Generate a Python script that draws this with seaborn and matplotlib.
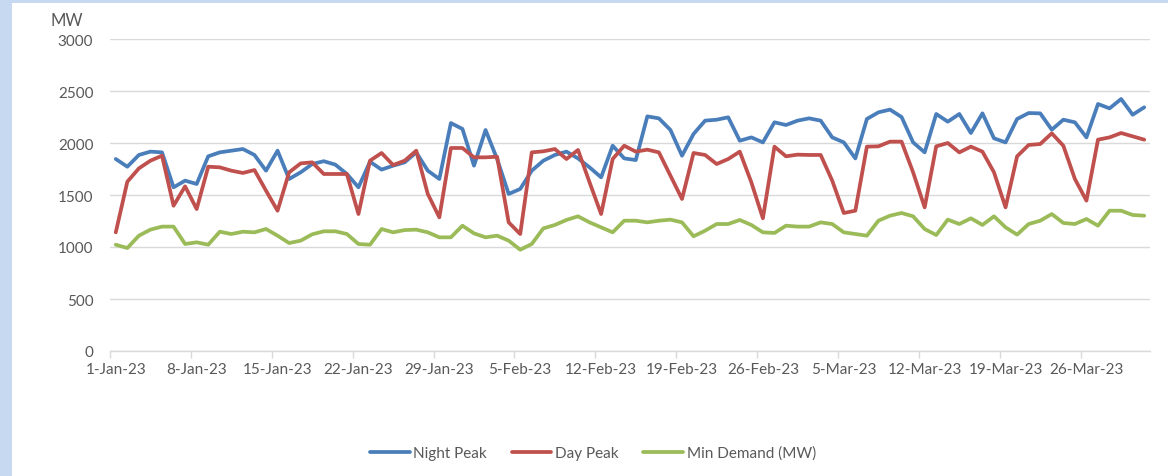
import matplotlib
matplotlib.use("Agg")
import matplotlib.pyplot as plt
from matplotlib.patches import Rectangle
import pandas as pd
import seaborn as sns

# Daily demand, 1 Jan - 31 Mar 2023 (MW)
start_date = "2023-01-01"
n_days = 90

night_peak = [
    1846, 1772, 1885, 1917, 1910, 1574, 1638, 1606, 1872, 1910,
    1926, 1942, 1885, 1734, 1926, 1654, 1718, 1798, 1825, 1792,
    1702, 1574, 1820, 1744, 1782, 1814, 1910, 1734, 1654, 2192,
    2135, 1782, 2125, 1846, 1510, 1558, 1734, 1830, 1885, 1917,
    1852, 1766, 1670, 1974, 1852, 1836, 2256, 2237, 2125, 1878,
    2087, 2215, 2224, 2247, 2022, 2054, 2006, 2199, 2173, 2215,
    2237, 2215, 2054, 2006, 1852, 2231, 2295, 2321, 2250, 2006,
    1910, 2279, 2205, 2279, 2096, 2285, 2045, 2006, 2231, 2288,
    2285, 2128, 2224, 2199, 2054, 2375, 2333, 2423, 2272, 2343,
]

day_peak = [
    1141, 1628, 1756, 1830, 1878, 1397, 1583, 1365, 1772, 1766,
    1734, 1712, 1740, 1542, 1349, 1718, 1804, 1814, 1702, 1702,
    1702, 1317, 1830, 1904, 1788, 1830, 1926, 1510, 1285, 1952,
    1952, 1862, 1862, 1868, 1237, 1125, 1910, 1920, 1942, 1846,
    1933, 1622, 1317, 1846, 1974, 1917, 1936, 1910, 1686, 1462,
    1904, 1885, 1798, 1846, 1917, 1622, 1276, 1965, 1872, 1888,
    1885, 1885, 1638, 1327, 1349, 1965, 1968, 2013, 2013, 1718,
    1381, 1968, 2000, 1910, 1965, 1917, 1718, 1381, 1872, 1981,
    1990, 2093, 1974, 1654, 1446, 2032, 2054, 2096, 2064, 2032,
]

min_demand = [
    1022, 990, 1109, 1167, 1196, 1196, 1029, 1045, 1022, 1147,
    1125, 1147, 1141, 1173, 1109, 1038, 1061, 1122, 1151, 1151,
    1125, 1029, 1022, 1173, 1141, 1163, 1167, 1141, 1093, 1093,
    1205, 1131, 1093, 1109, 1061, 974, 1029, 1179, 1212, 1260,
    1295, 1237, 1189, 1141, 1253, 1253, 1237, 1253, 1263, 1237,
    1103, 1157, 1221, 1221, 1260, 1212, 1141, 1135, 1205, 1196,
    1196, 1237, 1221, 1141, 1125, 1109, 1253, 1301, 1327, 1295,
    1173, 1115, 1263, 1221, 1276, 1212, 1295, 1189, 1119, 1221,
    1253, 1317, 1231, 1221, 1269, 1205, 1349, 1349, 1308, 1301,
]

series_names = ["Night Peak", "Day Peak", "Min Demand (MW)"]
series_colors = ["#4a7ebb", "#c0504d", "#9bbb59"]
y_ticks = [0, 500, 1000, 1500, 2000, 2500, 3000]

dates = pd.date_range(start_date, periods=n_days, freq="D")
# each day's point sits in the middle of its day slot
x_mid = dates + pd.Timedelta(hours=12)

df = pd.concat([
    pd.DataFrame({"date": x_mid, "MW": vals, "series": name})
    for name, vals in zip(series_names, [night_peak, day_peak, min_demand])
], ignore_index=True)

sns.set_theme(style="white")
plt.rcParams["font.family"] = ["Lato", "DejaVu Sans"]
text_color = "#595959"
grid_color = "#d9d9d9"

fig = plt.figure(figsize=(11.68, 4.77), dpi=100)
fig.patch.set_facecolor("white")

# light blue frame along the top and left edges
fig.patches.append(Rectangle((0, 1 - 4 / 477), 1, 4 / 477, transform=fig.transFigure,
                             facecolor="#c6d9f0", edgecolor="none", zorder=0))
fig.patches.append(Rectangle((0, 0), 12 / 1168, 1, transform=fig.transFigure,
                             facecolor="#c6d9f0", edgecolor="none", zorder=0))

ax = fig.add_axes([110 / 1168, 1 - 352 / 477, 1040 / 1168, 312 / 477])

sns.lineplot(data=df, x="date", y="MW", hue="series", hue_order=series_names,
             palette=series_colors, linewidth=2.7, ax=ax, legend=True)

ax.set_ylim(0, 3000)
ax.set_yticks(y_ticks)
ax.set_yticklabels([str(v) for v in y_ticks])
ax.set_xlim(dates[0], dates[-1] + pd.Timedelta(days=1))

week_starts = pd.date_range(start_date, periods=13, freq="7D")
ax.set_xticks(week_starts)
ax.set_xticklabels([])
ax.set_xticks(week_starts + pd.Timedelta(hours=12), minor=True)
ax.set_xticklabels([f"{d.day}-{d.strftime('%b-%y')}" for d in week_starts], minor=True)

ax.tick_params(axis="x", which="major", length=5, width=1, color=grid_color,
               direction="out", bottom=True)
ax.tick_params(axis="x", which="minor", length=0, pad=8, labelsize=11,
               labelcolor=text_color)
ax.tick_params(axis="y", length=0, pad=12, labelsize=11, labelcolor=text_color)

ax.grid(axis="y", color=grid_color, linewidth=1)
ax.set_axisbelow(True)
for side in ["top", "right", "left"]:
    ax.spines[side].set_visible(False)
ax.spines["bottom"].set_color(grid_color)
ax.spines["bottom"].set_linewidth(1)
ax.set_xlabel("")
ax.set_ylabel("")

fig.text(50 / 1168, 1 - 21 / 477, "MW", fontsize=12, color=text_color,
         ha="left", va="center")

handles, labels = ax.get_legend_handles_labels()
ax.get_legend().remove()
fig.legend(handles, labels, loc="center", bbox_to_anchor=(593 / 1168, 1 - 454 / 477),
           ncol=3, frameon=False, fontsize=11, handlelength=2.6, handletextpad=0.25,
           columnspacing=1.6, labelcolor=text_color)

fig.savefig("out.png", dpi=100, facecolor="white")
